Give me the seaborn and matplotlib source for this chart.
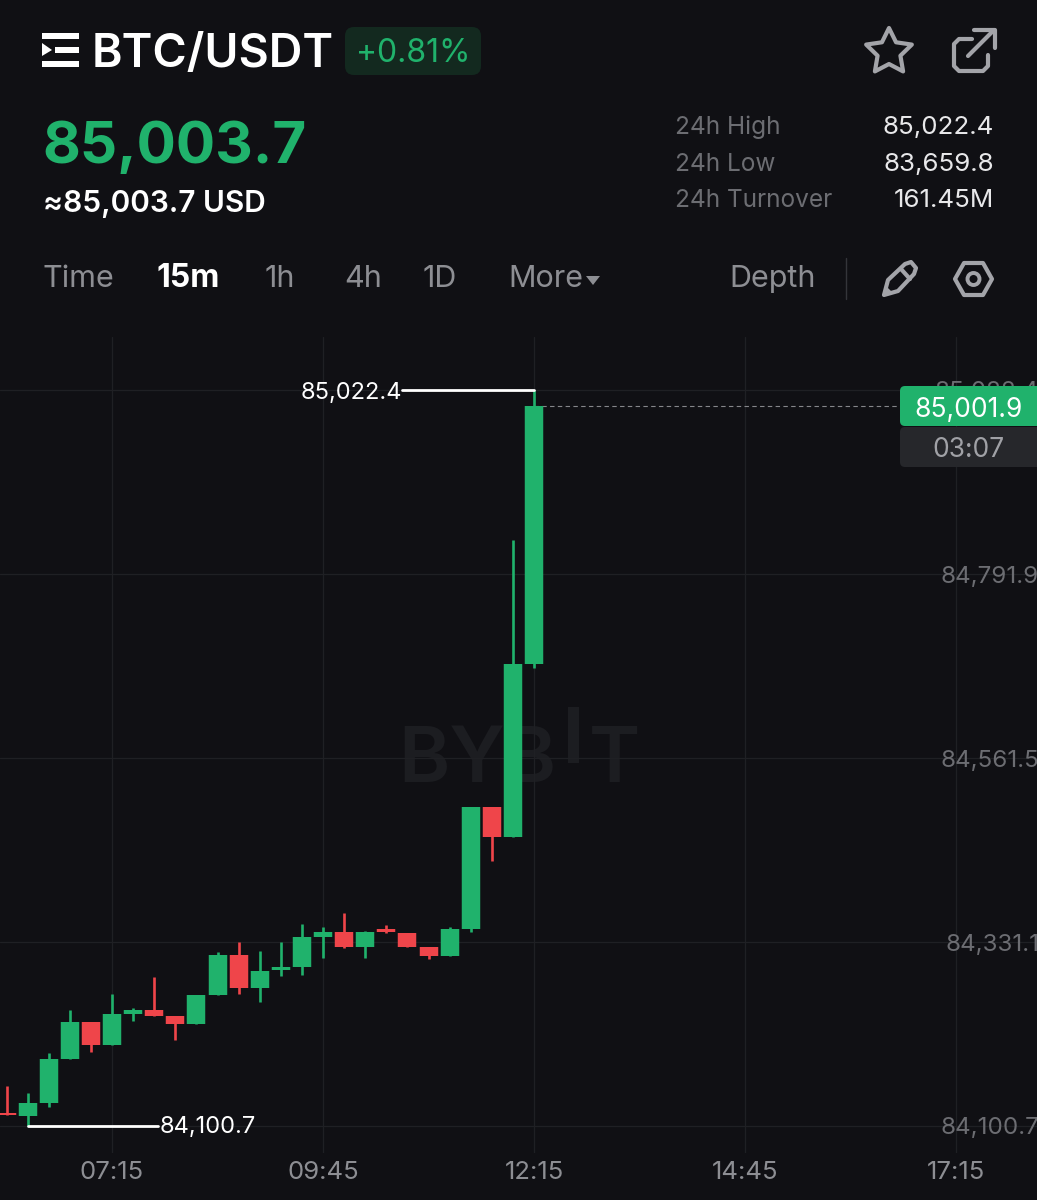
import matplotlib
matplotlib.use("Agg")
import matplotlib.pyplot as plt
from matplotlib.patches import FancyBboxPatch, Polygon, Rectangle, Circle
import numpy as np
import pandas as pd
import seaborn as sns

# 15m candles
times = ["06:00", "06:15", "06:30", "06:45", "07:00", "07:15", "07:30", "07:45", "08:00",
         "08:15", "08:30", "08:45", "09:00", "09:15", "09:30", "09:45", "10:00", "10:15",
         "10:30", "10:45", "11:00", "11:15", "11:30", "11:45", "12:00", "12:15"]
opens = [84117.4, 84113.2, 84129.9, 84185.0, 84230.9, 84201.8, 84240.6, 84246.0, 84238.5,
         84228.8, 84264.4, 84314.8, 84273.9, 84295.7, 84299.4, 84337.0, 84344.0, 84324.5,
         84347.0, 84342.0, 84324.9, 84314.0, 84347.0, 84499.8, 84462.2, 84679.3]
closes = [84114.1, 84129.9, 84185.0, 84230.9, 84201.8, 84240.6, 84246.0, 84238.5, 84228.8,
          84264.4, 84314.8, 84273.9, 84295.2, 84299.4, 84337.0, 84344.0, 84324.5, 84343.7,
          84343.7, 84324.9, 84314.0, 84347.0, 84499.8, 84462.2, 84679.3, 85001.9]
highs = [84150.8, 84142.0, 84192.5, 84246.0, 84230.9, 84265.6, 84248.5, 84286.9, 84238.5,
         84264.4, 84318.6, 84331.1, 84319.5, 84331.1, 84353.7, 84350.3, 84367.8, 84345.0,
         84352.0, 84342.0, 84324.9, 84349.9, 84499.8, 84499.8, 84834.5, 85022.4]
lows = [84114.1, 84100.7, 84124.9, 84185.0, 84193.4, 84201.8, 84231.8, 84238.5, 84208.4,
        84228.8, 84264.4, 84266.0, 84256.4, 84288.5, 84290.2, 84310.7, 84323.2, 84311.5,
        84342.0, 84324.9, 84309.5, 84314.0, 84344.0, 84432.9, 84462.2, 84673.9]

price_ticks = [85022.4, 84791.9, 84561.5, 84331.1, 84100.7]
time_ticks = ["07:15", "09:45", "12:15", "14:45", "17:15"]

GREEN = "#20b26c"
RED = "#ef454a"
BG = "#101014"
GRID = "#1f2024"
ICON = "#a3a4a9"
MUTED = "#6c6d72"
SOFT = "#8d8e93"
FONT = ["Inter", "DejaVu Sans"]

W, H = 1037, 1200
CHART_TOP, CHART_BOTTOM = 337, 1153


def to_minutes(label):
    hh, mm = label.split(":")
    return int(hh) * 60 + int(mm)


def fmt(v):
    return f"{v:,.1f}"


sns.set_theme(style="darkgrid", rc={"figure.facecolor": BG, "axes.facecolor": BG,
                                    "grid.color": GRID, "grid.linewidth": 0.9})
plt.rcParams["font.family"] = FONT

minutes = [to_minutes(t) for t in times]
df = pd.DataFrame({"t": minutes, "open": opens, "close": closes, "high": highs, "low": lows})
df["dir"] = np.where(df["close"] >= df["open"], "up", "down")
palette = {"up": GREEN, "down": RED}

wicks = df.melt(id_vars=["t", "dir"], value_vars=["low", "high"], value_name="price")
bodies = df.melt(id_vars=["t", "dir"], value_vars=["open", "close"], value_name="price")

fig = plt.figure(figsize=(W / 100, H / 100), dpi=100, facecolor=BG)
ax = fig.add_axes([0, 1 - CHART_BOTTOM / H, 1, (CHART_BOTTOM - CHART_TOP) / H])
px = fig.add_axes([0, 0, 1, 1], zorder=5)
px.set_xlim(0, W)
px.set_ylim(H, 0)
px.axis("off")

# price/time scales of the screenshot
y_hi, y_lo = price_ticks[0], price_ticks[-1]
per_px = (y_hi - y_lo) / (1126 - 390)
ax.set_ylim(y_lo - (CHART_BOTTOM - 1126) * per_px, y_hi + (390 - CHART_TOP) * per_px)
min_per_px = 15 / 21.1
t_last = to_minutes("12:15")
ax.set_xlim(t_last - 534 * min_per_px, t_last + (W - 534) * min_per_px)

sns.lineplot(data=wicks, x="t", y="price", units="t", hue="dir", palette=palette, estimator=None,
             sort=False, linewidth=1.9, legend=False, solid_capstyle="butt", ax=ax, zorder=3)
sns.lineplot(data=bodies, x="t", y="price", units="t", hue="dir", palette=palette, estimator=None,
             sort=False, linewidth=13.3, legend=False, solid_capstyle="butt", ax=ax, zorder=4)

ax.set_xlabel("")
ax.set_ylabel("")
ax.set_xticks([to_minutes(t) for t in time_ticks])
ax.set_xticklabels(time_ticks)
ax.set_yticks(price_ticks)
ax.set_yticklabels([fmt(p) for p in price_ticks])
ax.yaxis.tick_right()
ax.tick_params(axis="x", length=0, pad=6, labelsize=18.5, labelcolor=SOFT)
ax.tick_params(axis="y", length=0, pad=1.5, labelsize=17.4, labelcolor=MUTED)
for lab in ax.get_yticklabels():
    lab.set_ha("right")
for s in ax.spines.values():
    s.set_visible(False)

# watermark
for txt, x in [("BYB", 398), ("T", 589)]:
    ax.text(x, 782, txt, transform=px.transData, fontsize=56, fontweight="semibold",
            color="#1c1d21", zorder=0.5, ha="left", va="baseline")
ax.add_patch(Rectangle((568, 707), 11, 56, transform=px.transData, color="#1c1d21", zorder=0.5, lw=0))

# high / low markers
t_high = df.loc[df["high"].idxmax(), "t"]
t_low = df.loc[df["low"].idxmin(), "t"]
ax.plot([t_high - 132 * min_per_px, t_high], [max(highs)] * 2, color="white", lw=2, zorder=5)
ax.plot([t_low, t_low + 130 * min_per_px], [min(lows)] * 2, color="white", lw=2, zorder=5)
ax.annotate(fmt(max(highs)), (t_high, max(highs)), xytext=(-95, -2), textcoords="offset points",
            color="white", fontsize=17, ha="right", va="center", zorder=6)
ax.annotate(fmt(min(lows)), (t_low, min(lows)), xytext=(95, -1), textcoords="offset points",
            color="white", fontsize=17, ha="left", va="center", zorder=6)

# last price line
ax.plot([t_last, t_last + 366 * min_per_px], [closes[-1]] * 2, color="#85868a", lw=0.8,
        ls=(0, (4, 3)), zorder=2)
px.add_patch(FancyBboxPatch((900, 386), 160, 40, boxstyle="round,pad=0,rounding_size=5", fc=GREEN, ec="none"))
px.add_patch(FancyBboxPatch((900, 427), 160, 40, boxstyle="round,pad=0,rounding_size=5", fc="#26272b", ec="none"))
px.text(968, 417, fmt(closes[-1]), color="white", fontsize=19, ha="center", va="baseline")
px.text(968, 457, "03:07", color="#a0a1a6", fontsize=19, ha="center", va="baseline")

# header
px.add_patch(Rectangle((42, 33), 37, 5.5, color="white", lw=0))
px.add_patch(Rectangle((55, 47), 24, 6, color="white", lw=0))
px.add_patch(Rectangle((42, 61), 37, 6, color="white", lw=0))
px.add_patch(Polygon([(42, 43), (52, 50), (42, 56)], color="white", lw=0))
px.text(92, 67, "BTC/USDT", color="white", fontsize=33.5, fontweight="semibold", va="baseline")
px.add_patch(FancyBboxPatch((345, 27), 136, 48, boxstyle="round,pad=0,rounding_size=9", fc="#13291f", ec="none"))
px.text(413, 62, "+0.81%", color=GREEN, fontsize=23, ha="center", va="baseline")
px.text(42, 163, "85,003.7", color=GREEN, fontsize=42, fontweight="bold", va="baseline")
px.text(43, 212, "≈85,003.7 USD", color="white", fontsize=21.5, fontweight="semibold", va="baseline")

for label, y, value in [("24h High", 134, "85,022.4"), ("24h Low", 171, "83,659.8"), ("24h Turnover", 207, "161.45M")]:
    px.text(675, y, label, color=MUTED, fontsize=17.6, va="baseline")
    px.text(994, y, value, color="#e8e8ea", fontsize=18.7, ha="right", va="baseline")

for label, x in [("Time", 43), ("1h", 265), ("4h", 344), ("1D", 423), ("More", 508), ("Depth", 729)]:
    px.text(x, 287, label, color=SOFT, fontsize=22, va="baseline")
px.text(157, 287, "15m", color="white", fontsize=23, fontweight="bold", va="baseline")
px.add_patch(Polygon([(586, 276), (600, 276), (593, 285)], color=SOFT, lw=0))
px.plot([846, 846], [258, 299], color="#34353a", lw=1)

# icons
angles = np.deg2rad(np.arange(-90, 270, 36))
radii = np.tile([24, 12], 5)
star = np.c_[889 + radii * np.cos(angles), 52 + radii * np.sin(angles)]
icon_kw = dict(color=ICON, lw=3, solid_joinstyle="round", solid_capstyle="round")
px.add_patch(Polygon(star, closed=True, fill=False, ec=ICON, lw=3, joinstyle="round"))
px.plot([972, 959, 954, 954, 959, 983, 988, 988], [39, 39, 44, 66, 71, 71, 66, 55], **icon_kw)
px.plot([968, 994], [56, 30], **icon_kw)
px.plot([974, 995, 995], [30, 30, 48], **icon_kw)
px.add_patch(Polygon([(884, 295), (888, 280), (905, 264), (911, 262), (916, 268), (914, 274), (898, 291)],
                     closed=True, fill=False, ec=ICON, lw=3, joinstyle="round"))
px.plot([901, 910], [269, 279], **icon_kw)
px.add_patch(Polygon([(884, 295), (886, 286), (893, 293)], color=ICON, lw=0))
px.add_patch(Polygon([(955, 279), (964, 263), (983, 263), (992, 279), (983, 295), (964, 295)],
                     closed=True, fill=False, ec=ICON, lw=3, joinstyle="round"))
px.add_patch(Circle((973.5, 279), 6, fill=False, ec=ICON, lw=2.8))

fig.savefig("out.png", dpi=100, facecolor=BG)
